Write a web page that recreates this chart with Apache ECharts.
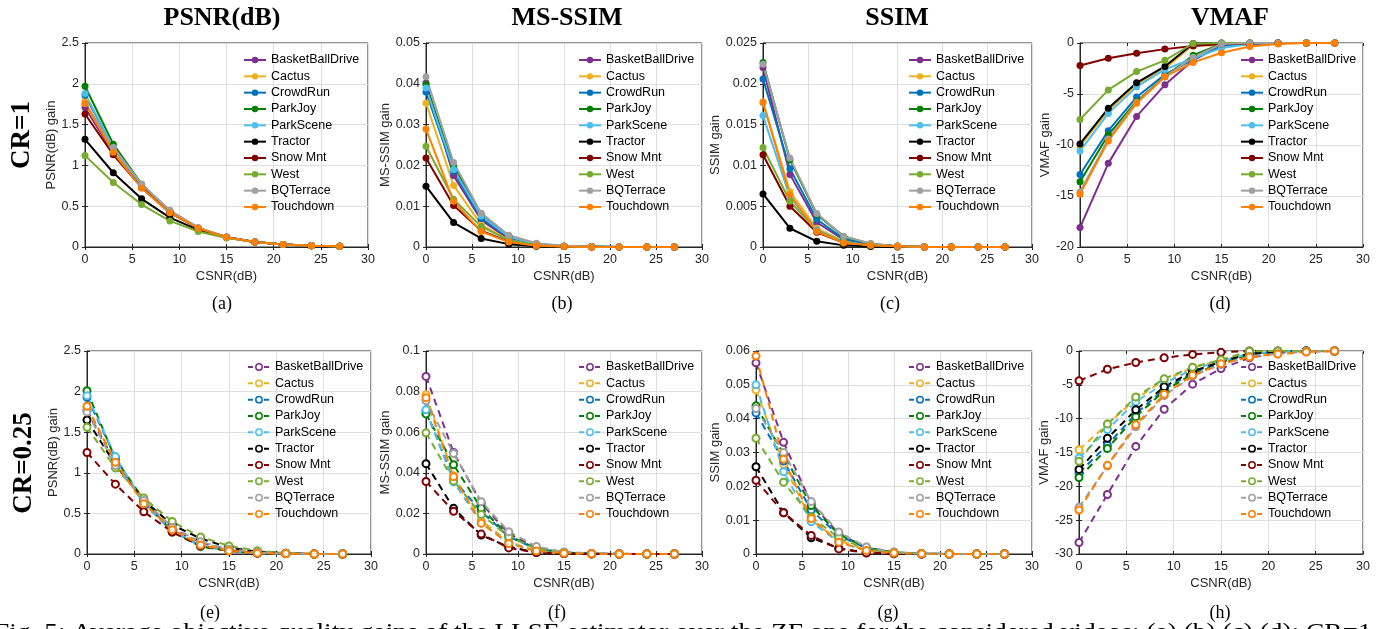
<!DOCTYPE html>
<html><head><meta charset="utf-8">
<script src="https://cdn.jsdelivr.net/npm/echarts@6/dist/echarts.min.js"></script>
<style>html,body{margin:0;padding:0;background:#fff;overflow:hidden}#c{width:1388px;height:629px}</style>
</head><body><div id="c"></div><script>
// ---------------- data ----------------
const csnr = [0, 3, 6, 9, 12, 15, 18, 21, 24, 27];
const videos = ['BasketBallDrive','Cactus','CrowdRun','ParkJoy','ParkScene','Tractor','Snow Mnt','West','BQTerrace','Touchdown'];
const videoColors = ['#7E2F8E','#EDB120','#0072BD','#008000','#4DBEEE','#000000','#7F0000','#77AC30','#A0A0A0','#FF8000'];

// (a) PSNR(dB) gain, CR=1
const psnrCR1 = [
  [1.71, 1.15, 0.73, 0.42, 0.23, 0.12, 0.06, 0.03, 0.015, 0.01],
  [1.79, 1.17, 0.74, 0.43, 0.23, 0.12, 0.06, 0.03, 0.015, 0.01],
  [1.86, 1.22, 0.75, 0.43, 0.23, 0.12, 0.06, 0.03, 0.015, 0.01],
  [1.97, 1.26, 0.77, 0.44, 0.23, 0.12, 0.06, 0.03, 0.015, 0.01],
  [1.88, 1.22, 0.76, 0.44, 0.23, 0.12, 0.06, 0.03, 0.015, 0.01],
  [1.32, 0.91, 0.59, 0.36, 0.21, 0.12, 0.06, 0.03, 0.015, 0.01],
  [1.63, 1.13, 0.73, 0.42, 0.23, 0.12, 0.06, 0.03, 0.015, 0.01],
  [1.12, 0.79, 0.52, 0.32, 0.19, 0.11, 0.06, 0.03, 0.015, 0.01],
  [1.76, 1.22, 0.77, 0.45, 0.24, 0.12, 0.06, 0.03, 0.015, 0.01],
  [1.76, 1.16, 0.72, 0.42, 0.23, 0.12, 0.06, 0.03, 0.015, 0.01]
];
// (b) MS-SSIM gain, CR=1
const msssimCR1 = [
  [0.0402, 0.0175, 0.0066, 0.0020, 0.0006, 0.0002, 0.0001, 0, 0, 0],
  [0.0353, 0.0151, 0.0055, 0.0017, 0.0005, 0.0001, 0, 0, 0, 0],
  [0.0380, 0.0185, 0.0070, 0.0024, 0.0007, 0.0002, 0.0001, 0, 0, 0],
  [0.0398, 0.0198, 0.0080, 0.0027, 0.0008, 0.0002, 0.0001, 0, 0, 0],
  [0.0390, 0.0190, 0.0076, 0.0025, 0.0007, 0.0002, 0.0001, 0, 0, 0],
  [0.0149, 0.0060, 0.0021, 0.0007, 0.0002, 0.0001, 0, 0, 0, 0],
  [0.0218, 0.0102, 0.0040, 0.0013, 0.0004, 0.0001, 0, 0, 0, 0],
  [0.0247, 0.0117, 0.0050, 0.0017, 0.0005, 0.0001, 0, 0, 0, 0],
  [0.0417, 0.0207, 0.0083, 0.0029, 0.0009, 0.0003, 0.0001, 0, 0, 0],
  [0.0289, 0.0112, 0.0038, 0.0012, 0.0003, 0.0001, 0, 0, 0, 0]
];
// (c) SSIM gain, CR=1
const ssimCR1 = [
  [0.0220, 0.0089, 0.0030, 0.0009, 0.0003, 0.0001, 0, 0, 0, 0],
  [0.0178, 0.0068, 0.0023, 0.0007, 0.0002, 0.0001, 0, 0, 0, 0],
  [0.0206, 0.0096, 0.0034, 0.0010, 0.0003, 0.0001, 0, 0, 0, 0],
  [0.0226, 0.0107, 0.0040, 0.0013, 0.0004, 0.0001, 0, 0, 0, 0],
  [0.0161, 0.0061, 0.0021, 0.0006, 0.0002, 0.0001, 0, 0, 0, 0],
  [0.0065, 0.0023, 0.0007, 0.0002, 0.00005, 0, 0, 0, 0, 0],
  [0.0113, 0.0050, 0.0018, 0.0005, 0.0002, 0.0001, 0, 0, 0, 0],
  [0.0122, 0.0056, 0.0020, 0.0006, 0.0002, 0.0001, 0, 0, 0, 0],
  [0.0224, 0.0109, 0.0041, 0.0013, 0.0004, 0.0001, 0, 0, 0, 0],
  [0.0177, 0.0064, 0.0019, 0.0005, 0.0002, 0.0001, 0, 0, 0, 0]
];
// (d) VMAF gain, CR=1
const vmafCR1 = [
  [-18.1, -11.8, -7.2, -4.1, -1.7, -0.2, -0.1, 0, 0, 0],
  [-10.1, -6.6, -4.1, -2.5, -0.2, -0.3, -0.1, 0, 0, 0],
  [-12.9, -8.6, -5.3, -3.1, -1.6, -0.3, -0.1, 0, 0, 0],
  [-13.6, -9.0, -5.7, -3.3, -1.2, -0.1, 0, 0, 0, 0],
  [-10.6, -6.9, -4.3, -2.6, -1.5, -0.5, -0.1, 0, 0, 0],
  [-9.9, -6.4, -3.9, -2.3, -0.05, 0, 0, 0, 0, 0],
  [-2.2, -1.5, -1.0, -0.6, -0.3, -0.1, -0.05, 0, 0, 0],
  [-7.5, -4.6, -2.8, -1.7, -0.05, 0, 0, 0, 0, 0],
  [-14.6, -9.4, -5.8, -3.3, -1.4, -0.1, 0, 0, 0, 0],
  [-14.8, -9.6, -5.9, -3.3, -1.9, -0.95, -0.35, -0.1, 0, 0]
];
// (e) PSNR(dB) gain, CR=0.25
const psnrCR025 = [
  [1.77, 1.12, 0.64, 0.31, 0.14, 0.05, 0.01, 0.005, 0, 0],
  [1.80, 1.14, 0.63, 0.30, 0.13, 0.05, 0.01, 0.005, 0, 0],
  [1.93, 1.19, 0.62, 0.28, 0.10, 0.04, 0.01, 0.005, 0, 0],
  [2.01, 1.17, 0.67, 0.27, 0.09, 0.04, 0.01, 0.005, 0, 0],
  [1.95, 1.20, 0.62, 0.28, 0.10, 0.04, 0.01, 0.005, 0, 0],
  [1.65, 1.10, 0.66, 0.36, 0.19, 0.08, 0.03, 0.01, 0, 0],
  [1.25, 0.86, 0.52, 0.27, 0.10, 0.04, 0.01, 0.005, 0, 0],
  [1.56, 1.06, 0.69, 0.40, 0.21, 0.10, 0.04, 0.01, 0, 0],
  [1.75, 1.09, 0.66, 0.33, 0.15, 0.06, 0.02, 0.005, 0, 0],
  [1.82, 1.13, 0.62, 0.30, 0.11, 0.04, 0.01, 0.005, 0, 0]
];
// (f) MS-SSIM gain, CR=0.25
const msssimCR025 = [
  [0.0875, 0.0500, 0.0250, 0.0100, 0.0030, 0.0008, 0.0002, 0.0001, 0, 0],
  [0.0785, 0.0385, 0.0165, 0.0060, 0.0015, 0.0005, 0.0001, 0, 0, 0],
  [0.0705, 0.0365, 0.0210, 0.0085, 0.0025, 0.0007, 0.0002, 0, 0, 0],
  [0.0690, 0.0440, 0.0225, 0.0090, 0.0028, 0.0007, 0.0002, 0, 0, 0],
  [0.0710, 0.0355, 0.0152, 0.0055, 0.0013, 0.0004, 0.0001, 0, 0, 0],
  [0.0445, 0.0225, 0.0093, 0.0035, 0.0008, 0.0002, 0.0001, 0, 0, 0],
  [0.0357, 0.0210, 0.0098, 0.0030, 0.0007, 0.0002, 0, 0, 0, 0],
  [0.0597, 0.0360, 0.0195, 0.0085, 0.0025, 0.0006, 0.0002, 0, 0, 0],
  [0.0755, 0.0495, 0.0258, 0.0110, 0.0037, 0.0010, 0.0003, 0.0001, 0, 0],
  [0.0770, 0.0380, 0.0152, 0.0052, 0.0015, 0.0004, 0.0001, 0, 0, 0]
];
// (g) SSIM gain, CR=0.25
const ssimCR025 = [
  [0.0565, 0.0330, 0.0150, 0.0060, 0.0018, 0.0004, 0.0001, 0, 0, 0],
  [0.0485, 0.0265, 0.0100, 0.0040, 0.0012, 0.0003, 0.0001, 0, 0, 0],
  [0.0417, 0.0275, 0.0130, 0.0055, 0.0017, 0.0004, 0.0001, 0, 0, 0],
  [0.0438, 0.0295, 0.0143, 0.0058, 0.0020, 0.0005, 0.0001, 0, 0, 0],
  [0.0500, 0.0243, 0.0095, 0.0035, 0.0010, 0.0003, 0.0001, 0, 0, 0],
  [0.0258, 0.0122, 0.0048, 0.0017, 0.0004, 0.0001, 0, 0, 0, 0],
  [0.0218, 0.0122, 0.0055, 0.0015, 0.0003, 0.0001, 0, 0, 0, 0],
  [0.0342, 0.0212, 0.0110, 0.0048, 0.0015, 0.0004, 0.0001, 0, 0, 0],
  [0.0430, 0.0300, 0.0155, 0.0065, 0.0021, 0.0006, 0.0001, 0, 0, 0],
  [0.0585, 0.0280, 0.0105, 0.0035, 0.0010, 0.0003, 0.0001, 0, 0, 0]
];
// (h) VMAF gain, CR=0.25
const vmafCR025 = [
  [-28.3, -21.2, -14.1, -8.6, -4.9, -2.6, -1.0, -0.3, -0.1, 0],
  [-14.6, -10.8, -7.1, -4.3, -2.5, -1.3, -0.4, -0.1, 0, 0],
  [-18.0, -13.9, -9.3, -5.6, -3.2, -1.8, -0.5, -0.1, 0, 0],
  [-18.7, -14.4, -9.7, -5.9, -3.4, -1.9, -0.5, -0.1, 0, 0],
  [-15.8, -11.6, -7.5, -4.8, -2.7, -1.5, -0.4, -0.1, 0, 0],
  [-17.5, -12.9, -8.7, -5.3, -3.0, -1.6, -0.4, -0.1, 0, 0],
  [-4.4, -2.7, -1.7, -1.0, -0.5, -0.2, 0, 0, 0, 0],
  [-16.3, -10.8, -6.8, -4.1, -2.4, -1.3, -0.05, 0, 0, 0],
  [-23.1, -17.0, -11.2, -6.6, -3.7, -2.0, -0.8, -0.4, -0.1, 0],
  [-23.5, -16.9, -10.9, -6.4, -3.6, -1.9, -0.9, -0.45, -0.15, 0]
];

const columnTitles = ['PSNR(dB)', 'MS-SSIM', 'SSIM', 'VMAF'];
const rowTitles = ['CR=1', 'CR=0.25'];
const subLabels = ['(a)','(b)','(c)','(d)','(e)','(f)','(g)','(h)'];
const yNames = ['PSNR(dB) gain','MS-SSIM gain','SSIM gain','VMAF gain','PSNR(dB) gain','MS-SSIM gain','SSIM gain','VMAF gain'];
const xName = 'CSNR(dB)';
const captionText = 'Fig. 5: Average objective quality gains of the LLSE estimator over the ZF one for the considered videos: (a),(b),(c),(d): CR=1,';

// ---------------- layout ----------------
const panelData = [psnrCR1, msssimCR1, ssimCR1, vmafCR1, psnrCR025, msssimCR025, ssimCR025, vmafCR025];
const yRanges = [[0,2.5,0.5],[0,0.05,0.01],[0,0.025,0.005],[-20,0,5],[0,2.5,0.5],[0,0.1,0.02],[0,0.06,0.01],[-30,0,5]];
const grids = [
  {left:85, top:43, width:283, height:204},
  {left:426, top:43, width:276, height:204},
  {left:763, top:43, width:269, height:204},
  {left:1080, top:43, width:283, height:204},
  {left:87, top:351, width:284, height:203},
  {left:426, top:351, width:276, height:203},
  {left:756, top:351, width:276, height:203},
  {left:1079, top:351, width:284, height:203}
];
const yNameGaps = [25, 31, 38, 26, 25, 31, 31, 27];
const legendPos = [[243,52],[578,52],[908,52],[1240,52],[247,359],[578,359],[908,359],[1240,359]];
const titleX = [222, 567, 897, 1230];
const subLabelPos = [[222,304],[562,304],[890,304],[1220,304],[210,613],[557,613],[888,613],[1220,613]];

const SANS = '"Liberation Sans", Arial, Helvetica, sans-serif';
const SERIF = '"Liberation Serif", "Times New Roman", serif';
const AX = '#262626';

const option = {
  animation: false,
  backgroundColor: '#fff',
  grid: [], xAxis: [], yAxis: [], series: [], legend: [], graphic: []
};

const tickOnly = {axisLine:{show:false}, axisLabel:{show:false}, splitLine:{show:false},
  axisTick:{show:true, inside:true, length:3, lineStyle:{color:AX}}};

for (let i = 0; i < 8; i++) {
  const dashed = i >= 4;
  option.grid.push(Object.assign({show:true, borderColor:AX, borderWidth:1, backgroundColor:'transparent', containLabel:false}, grids[i]));
  option.xAxis.push({
    type:'value', gridIndex:i, min:0, max:30, interval:5, position:'bottom',
    name:xName, nameLocation:'middle', nameGap:23,
    nameTextStyle:{fontFamily:SANS, fontSize:13, color:AX},
    axisLine:{show:true, onZero:false, lineStyle:{color:AX, width:1}},
    axisTick:{show:true, inside:true, length:3, lineStyle:{color:AX}},
    axisLabel:{fontFamily:SANS, fontSize:12.5, color:AX, margin:6},
    splitLine:{show:true, lineStyle:{color:'#dedede', width:1}}
  });
  const yr = yRanges[i];
  option.yAxis.push({
    type:'value', gridIndex:i, min:yr[0], max:yr[1], interval:yr[2], position:'left',
    name:yNames[i], nameLocation:'middle', nameGap:yNameGaps[i],
    nameTextStyle:{fontFamily:SANS, fontSize:13, color:AX},
    axisLine:{show:true, onZero:false, lineStyle:{color:AX, width:1}},
    axisTick:{show:true, inside:true, length:3, lineStyle:{color:AX}},
    axisLabel:{fontFamily:SANS, fontSize:12.5, color:AX, margin:6},
    splitLine:{show:true, lineStyle:{color:'#dedede', width:1}}
  });
  const data = panelData[i];
  for (let j = 0; j < videos.length; j++) {
    const c = videoColors[j];
    option.series.push({
      type:'line', name:videos[j], xAxisIndex:i, yAxisIndex:i,
      data: csnr.map((x, k) => [x, data[j][k]]),
      symbol: dashed ? 'emptyCircle' : 'circle',
      symbolSize: 7, showSymbol:true, showAllSymbol:true,
      lineStyle:{color:c, width:2, type: dashed ? [7,5] : 'solid'},
      itemStyle:{color:c, borderColor:c, borderWidth: dashed ? 1.5 : 0},
      emphasis:{disabled:true}, silent:true, clip:true
    });
  }
  option.legend.push({
    orient:'vertical', left:legendPos[i][0], top:legendPos[i][1], padding:0,
    itemGap:0.33, itemWidth:22, itemHeight:8, selectedMode:false,
    textStyle:{fontFamily:SANS, fontSize:12.5, color:'#000', lineHeight:16},
    data: videos.map((n, j) => ({
      name:n,
      itemStyle: dashed ? {color:'#fff', borderColor:videoColors[j], borderWidth:1.5}
                        : {color:videoColors[j], borderWidth:0},
      lineStyle: {color:videoColors[j], width:2, type: dashed ? [5,3] : 'solid'}
    }))
  });
}
// mirrored tick marks on top and right sides (box axes)
for (let i = 0; i < 8; i++) {
  const yr = yRanges[i];
  option.xAxis.push(Object.assign({type:'value', gridIndex:i, min:0, max:30, interval:5, position:'top'}, tickOnly));
  option.yAxis.push(Object.assign({type:'value', gridIndex:i, min:yr[0], max:yr[1], interval:yr[2], position:'right'}, tickOnly));
}

// column titles
for (let k = 0; k < 4; k++) {
  option.graphic.push({type:'text', x:titleX[k], y:18, silent:true,
    style:{text:columnTitles[k], font:'bold 26px ' + SERIF, fill:'#000', align:'center', verticalAlign:'middle', textAlign:'center', textVerticalAlign:'middle'}});
}
// row titles
option.graphic.push({type:'text', x:22, y:135, rotation:Math.PI/2, silent:true,
  style:{text:rowTitles[0], font:'bold 27px ' + SERIF, fill:'#000', align:'center', verticalAlign:'middle', textAlign:'center', textVerticalAlign:'middle'}});
option.graphic.push({type:'text', x:24, y:463, rotation:Math.PI/2, silent:true,
  style:{text:rowTitles[1], font:'bold 27px ' + SERIF, fill:'#000', align:'center', verticalAlign:'middle', textAlign:'center', textVerticalAlign:'middle'}});
// sub labels
for (let i = 0; i < 8; i++) {
  option.graphic.push({type:'text', x:subLabelPos[i][0], y:subLabelPos[i][1], silent:true,
    style:{text:subLabels[i], font:'18px ' + SERIF, fill:'#000', align:'center', verticalAlign:'middle', textAlign:'center', textVerticalAlign:'middle'}});
}
// caption (cut at the bottom edge)
option.graphic.push({type:'text', x:-6, y:621, scaleX:1.19, scaleY:1, silent:true,
  style:{text:captionText, font:'23px ' + SERIF, fill:'#000', align:'left', verticalAlign:'top'}});

const chart = echarts.init(document.getElementById('c'), null, {renderer:'canvas'});
chart.setOption(option);
</script></body></html>
